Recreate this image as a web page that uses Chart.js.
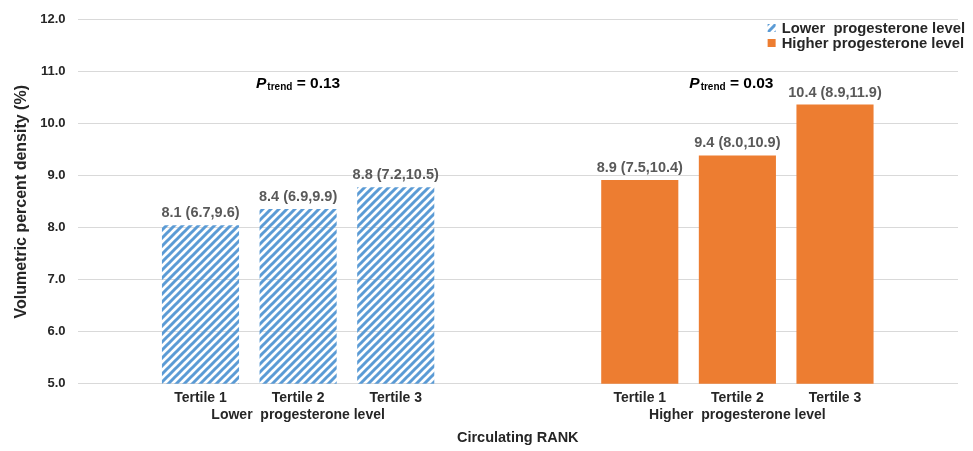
<!DOCTYPE html>
<html>
<head>
<meta charset="utf-8">
<script src="https://cdn.jsdelivr.net/npm/chart.js@4"></script>
<style>
  html, body { margin: 0; padding: 0; background: #fff; }
  #wrap { width: 973px; height: 451px; }
</style>
</head>
<body>
<div id="wrap"><canvas id="chart"></canvas></div>
<script>
// ── Data ─────────────────────────────────────────────────────
const tertiles       = ['Tertile 1', 'Tertile 2', 'Tertile 3'];
const groupNames     = ['Lower  progesterone level', 'Higher progesterone level'];
const groupAxisNames = ['Lower  progesterone level', 'Higher  progesterone level'];
const lowerValues    = [8.05, 8.36, 8.78];
const higherValues   = [8.92, 9.39, 10.37];
const lowerText      = ['8.1 (6.7,9.6)', '8.4 (6.9,9.9)', '8.8 (7.2,10.5)'];
const higherText     = ['8.9 (7.5,10.4)', '9.4 (8.0,10.9)', '10.4 (8.9,11.9)'];
const pTrends        = ['0.13', '0.03'];

// ── Look ─────────────────────────────────────────────────────
const COLORS = {
  blue:   '#5b9bd5',
  orange: '#ed7d31',
  grid:   '#d9d9d9',
  text:   '#262626',
  label:  '#595959',
};
const FONT = '"Liberation Sans", Arial, sans-serif';
const GROUP_GAP   = 1.5;   // empty slots between the two groups
const X_MARGIN    = 1.26;  // slots left/right of the outer bars
const P_TREND_AT  = 10.68; // y value of the P-trend baseline

const xPos = (g, i) => g * (tertiles.length + GROUP_GAP) + i;
const tickPositions = [0, 1].flatMap(g => tertiles.map((_, i) => xPos(g, i)));

function hatch(color) {
  const c = document.createElement('canvas');
  c.width = 8; c.height = 8;
  const g = c.getContext('2d');
  g.strokeStyle = color;
  g.lineWidth = 3;
  g.beginPath();
  g.moveTo(0, 8);  g.lineTo(8, 0);
  g.moveTo(-4, 4); g.lineTo(4, -4);
  g.moveTo(4, 12); g.lineTo(12, 4);
  g.stroke();
  return g.createPattern(c, 'repeat');
}
const blueHatch = hatch(COLORS.blue);

// ── Plugins: bar value text, P trend, legend ─────────────────
const annotations = {
  id: 'annotations',
  afterDatasetsDraw(chart) {
    const ctx = chart.ctx;
    ctx.save();
    ctx.font = `bold 14.5px ${FONT}`;
    ctx.fillStyle = COLORS.label;
    ctx.textAlign = 'center';
    ctx.textBaseline = 'alphabetic';
    chart.data.datasets.forEach((ds, di) => {
      chart.getDatasetMeta(di).data.forEach((bar, i) => {
        ctx.fillText(ds.valueText[i], bar.x, bar.y - 8);
      });
    });

    // P trend over each group
    const yBase = chart.scales.y.getPixelForValue(P_TREND_AT);
    const bigF = `bold 15.5px ${FONT}`, itF = `italic bold 15.5px ${FONT}`, subF = `bold 10px ${FONT}`;
    ctx.fillStyle = '#000';
    ctx.textAlign = 'left';
    pTrends.forEach((p, g) => {
      const mid = chart.getDatasetMeta(g).data[1].x;
      const rest = ' = ' + p;
      ctx.font = itF;  const w1 = ctx.measureText('P').width;
      ctx.font = subF; const w2 = ctx.measureText('trend').width;
      ctx.font = bigF; const w3 = ctx.measureText(rest).width;
      let x = mid - (w1 + 1 + w2 + w3) / 2 - g * 6;
      ctx.font = itF;  ctx.fillText('P', x, yBase);          x += w1 + 1;
      ctx.font = subF; ctx.fillText('trend', x, yBase + 2);  x += w2;
      ctx.font = bigF; ctx.fillText(rest, x, yBase);
    });
    ctx.restore();
  },
  afterDraw(chart) {
    const ctx = chart.ctx;
    ctx.save();
    ctx.font = `bold 14.8px ${FONT}`;
    ctx.textBaseline = 'alphabetic';
    ctx.textAlign = 'left';
    const items = chart.data.datasets;
    const maxW = Math.max(...items.map(d => ctx.measureText(d.label).width));
    const x0 = chart.width - 8 - maxW;
    items.forEach((d, i) => {
      const base = 33 + i * 15;
      ctx.fillStyle = d.backgroundColor;
      ctx.fillRect(x0 - 14, base - 9, 8, 8);
      ctx.fillStyle = COLORS.text;
      ctx.fillText(d.label, x0, base);
    });
    ctx.restore();
  }
};

// ── Chart ────────────────────────────────────────────────────
new Chart(document.getElementById('chart'), {
  type: 'bar',
  data: {
    datasets: [
      {
        label: groupNames[0],
        data: lowerValues.map((v, i) => ({ x: xPos(0, i), y: v })),
        valueText: lowerText,
        backgroundColor: blueHatch,
      },
      {
        label: groupNames[1],
        data: higherValues.map((v, i) => ({ x: xPos(1, i), y: v })),
        valueText: higherText,
        backgroundColor: COLORS.orange,
      }
    ]
  },
  options: {
    responsive: true,
    maintainAspectRatio: false,
    animation: false,
    layout: { padding: { top: 10, right: 15, bottom: 4, left: 5 } },
    datasets: { bar: { categoryPercentage: 1, barPercentage: 0.79 } },
    plugins: { legend: { display: false }, tooltip: { enabled: false } },
    scales: {
      x: {
        type: 'linear',
        stacked: true,
        offset: false,
        min: -X_MARGIN,
        max: xPos(1, tertiles.length - 1) + X_MARGIN,
        afterBuildTicks: s => { s.ticks = tickPositions.map(v => ({ value: v })); },
        ticks: {
          autoSkip: false,
          maxRotation: 0,
          padding: 6,
          color: COLORS.text,
          font: { family: FONT, size: 14, weight: 'bold', lineHeight: 1.21 },
          callback: (v, i) => {
            const g = Math.floor(i / tertiles.length), t = i % tertiles.length;
            return t === 1 ? [tertiles[t], groupAxisNames[g]] : tertiles[t];
          }
        },
        grid: { display: false, drawTicks: false },
        border: { display: false },
        title: {
          display: true,
          text: 'Circulating RANK',
          color: COLORS.text,
          font: { family: FONT, size: 14.5, weight: 'bold' },
          padding: { top: 0, bottom: 0 }
        }
      },
      y: {
        min: 5,
        max: 12,
        ticks: {
          stepSize: 1,
          padding: 12,
          color: COLORS.text,
          font: { family: FONT, size: 13, weight: 'bold' },
          callback: v => v.toFixed(1)
        },
        grid: { color: COLORS.grid, lineWidth: 1, drawTicks: false },
        border: { display: false },
        title: {
          display: true,
          text: 'Volumetric percent density (%)',
          color: COLORS.text,
          font: { family: FONT, size: 16, weight: 'bold' },
          padding: { top: 7, bottom: -3 }
        }
      }
    }
  },
  plugins: [annotations]
});
</script>
</body>
</html>
